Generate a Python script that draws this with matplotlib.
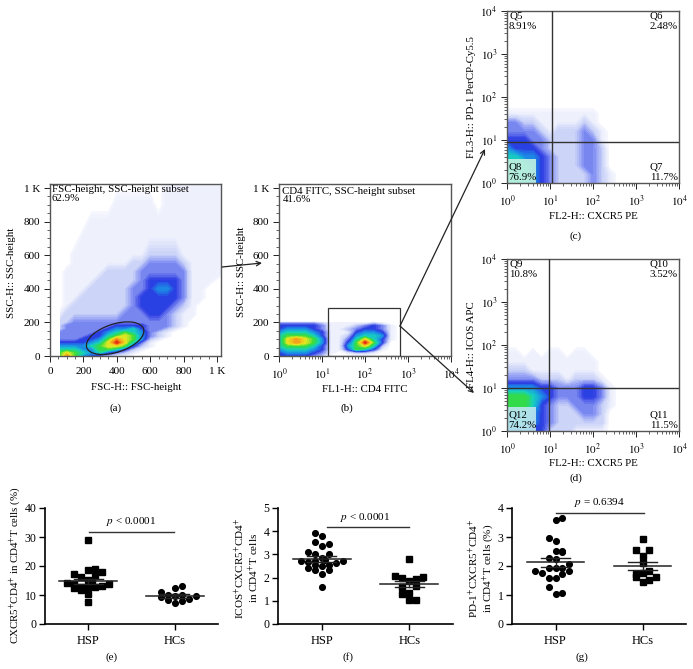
# Flow cytometry gating panels and scatter summaries
import numpy as np
import matplotlib
matplotlib.use('Agg')
from matplotlib import pyplot as plt
from matplotlib.colors import LinearSegmentedColormap
from matplotlib.patches import Ellipse, Rectangle, FancyArrowPatch
from matplotlib.ticker import MultipleLocator, FixedLocator, FixedFormatter, LogLocator, NullFormatter

plt.rcParams['font.family'] = ['Liberation Serif', 'DejaVu Serif']
plt.rcParams['mathtext.fontset'] = 'stix'

W, H = 693, 669

# density levels, 0 is empty and 10 is the red peak
a_x = [60, 100, 150, 200, 250, 300, 350, 400, 450, 500, 550, 600, 650, 700, 750, 800, 850, 900, 950, 1020]
a_y = [0, 20, 40, 60, 80, 100, 120, 140, 160, 180, 200, 250, 300, 350, 400, 450, 500, 550, 600, 700, 800, 900, 1020]
a_density = [
    [7, 9, 7, 5, 4, 3, 2, 1, 1, 0, 0, 0, 0, 0, 0, 0, 0, 0, 0, 0],
    [7, 8, 7, 6, 5, 6, 4, 3, 2, 1, 0, 0, 0, 0, 0, 0, 0, 0, 0, 0],
    [6, 6, 6, 5, 5, 7, 7, 6, 4, 2, 1, 0, 0, 0, 0, 0, 0, 0, 0, 0],
    [5, 5, 5, 5, 6, 7, 8, 8, 7, 4, 2, 1, 0, 0, 0, 0, 0, 0, 0, 0],
    [4, 4, 4, 4, 5, 6, 8, 10, 8, 6, 3, 1, 0, 0, 0, 0, 0, 0, 0, 0],
    [3, 3, 3, 4, 4, 5, 7, 9, 8, 7, 5, 2, 1, 0, 0, 0, 0, 0, 0, 0],
    [3, 3, 3, 3, 4, 4, 6, 7, 8, 7, 5, 3, 2, 1, 0, 0, 0, 0, 0, 0],
    [3, 3, 3, 3, 3, 4, 5, 6, 7, 6, 5, 3, 2, 1, 0, 0, 0, 0, 0, 0],
    [2, 3, 3, 3, 3, 3, 4, 5, 5, 6, 4, 3, 3, 2, 1, 0, 0, 0, 0, 0],
    [2, 3, 3, 3, 3, 3, 3, 4, 4, 4, 4, 3, 3, 3, 2, 1, 0, 0, 0, 0],
    [2, 2, 3, 3, 3, 3, 3, 3, 3, 3, 3, 3, 3, 3, 2, 1, 0, 0, 0, 0],
    [1, 2, 2, 2, 2, 2, 2, 2, 3, 3, 3, 4, 4, 3, 2, 1, 1, 0, 0, 0],
    [0, 1, 2, 2, 2, 2, 2, 2, 2, 3, 4, 4, 4, 4, 3, 2, 1, 0, 0, 0],
    [0, 1, 1, 2, 2, 2, 2, 2, 2, 3, 4, 4, 4, 4, 4, 3, 1, 1, 0, 0],
    [0, 1, 1, 1, 2, 2, 2, 2, 2, 3, 3, 4, 5, 5, 4, 3, 1, 1, 0, 0],
    [0, 1, 1, 1, 1, 2, 2, 2, 2, 2, 3, 4, 4, 4, 4, 3, 1, 1, 1, 0],
    [0, 1, 1, 1, 1, 1, 2, 2, 2, 2, 3, 3, 3, 3, 3, 3, 1, 1, 1, 1],
    [0, 0, 1, 1, 1, 1, 1, 1, 1, 2, 2, 3, 3, 3, 3, 2, 1, 1, 1, 1],
    [0, 0, 1, 1, 1, 1, 1, 1, 1, 1, 1, 2, 2, 2, 2, 1, 1, 1, 1, 1],
    [0, 0, 0, 1, 1, 1, 1, 1, 1, 1, 1, 1, 1, 1, 1, 1, 1, 1, 1, 1],
    [0, 0, 0, 0, 1, 1, 1, 1, 1, 1, 1, 1, 1, 1, 1, 1, 1, 1, 1, 1],
    [0, 0, 0, 0, 0, 0, 0, 1, 1, 1, 1, 1, 0, 1, 1, 1, 1, 1, 1, 1],
    [0, 0, 0, 0, 0, 0, 0, 0, 0, 0, 0, 0, 0, 1, 1, 1, 1, 1, 1, 1],
]

b_x = [0, .2, .4, .6, .8, 1, 1.2, 1.4, 1.6, 1.8, 2, 2.2, 2.4, 2.6, 2.8]
b_y = [0, 20, 40, 60, 80, 100, 120, 140, 160, 180, 195, 205]
b_density = [
    [4, 4, 4, 4, 3, 2, 0, 0, 0, 0, 0, 0, 0, 0, 0],
    [4, 5, 5, 5, 4, 3, 1, 0, 1, 2, 2, 1, 0, 0, 0],
    [5, 6, 6, 6, 5, 4, 1, 1, 4, 7, 6, 4, 1, 0, 0],
    [6, 7, 7, 7, 6, 4, 1, 1, 5, 7, 8, 6, 2, 0, 0],
    [6, 8, 9, 8, 7, 5, 1, 1, 4, 7, 10, 7, 4, 0, 0],
    [6, 8, 9, 8, 7, 5, 1, 1, 3, 6, 8, 6, 4, 1, 0],
    [6, 7, 7, 7, 6, 4, 1, 1, 2, 5, 6, 6, 5, 1, 0],
    [5, 6, 6, 6, 5, 4, 1, 1, 1, 4, 5, 5, 4, 1, 0],
    [4, 5, 5, 5, 4, 3, 1, 1, 2, 3, 4, 4, 3, 1, 0],
    [4, 4, 4, 4, 4, 3, 1, 1, 1, 2, 3, 4, 3, 1, 0],
    [3, 3, 3, 3, 3, 2, 1, 1, 1, 1, 1, 2, 1, 0, 0],
    [0, 0, 0, 0, 0, 0, 0, 0, 0, 0, 0, 0, 0, 0, 0],
]

cd_x = [0, .2, .4, .6, .8, 1, 1.2, 1.4, 1.6, 1.8, 2, 2.2, 2.4, 2.6]
c_y = [0, .2, .4, .6, .8, 1, 1.2, 1.4, 1.6, 1.8]
c_density = [
    [6, 6, 6, 5, 4, 3, 2, 2, 2, 2, 3, 2, 1, 0],
    [6, 6, 6, 5, 4, 3, 2, 2, 2, 2, 3, 2, 1, 0],
    [6, 6, 6, 5, 4, 3, 2, 2, 2, 3, 3, 2, 0, 0],
    [6, 6, 5, 5, 4, 3, 2, 2, 2, 3, 3, 2, 0, 0],
    [5, 4, 4, 4, 3, 2, 2, 2, 2, 3, 3, 2, 0, 0],
    [4, 4, 4, 3, 3, 2, 2, 2, 2, 3, 3, 1, 0, 0],
    [3, 3, 3, 3, 2, 1, 2, 2, 2, 3, 2, 1, 0, 0],
    [3, 3, 2, 2, 1, 1, 1, 1, 1, 2, 1, 0, 0, 0],
    [1, 1, 1, 1, 1, 1, 1, 1, 1, 1, 1, 0, 0, 0],
    [0, 0, 0, 0, 0, 0, 0, 0, 0, 0, 0, 0, 0, 0],
]

d_y = [0, .2, .4, .6, .8, 1, 1.2, 1.4, 1.6, 1.8, 2]
d_density = [
    [5, 5, 5, 4, 4, 2, 2, 2, 1, 1, 1, 1, 0, 0],
    [6, 6, 6, 5, 4, 3, 2, 2, 2, 2, 2, 2, 0, 0],
    [6, 6, 6, 5, 4, 3, 2, 2, 2, 3, 3, 2, 0, 0],
    [7, 7, 7, 6, 4, 3, 2, 2, 3, 3, 3, 2, 1, 0],
    [7, 7, 7, 6, 5, 4, 3, 3, 3, 4, 4, 3, 1, 0],
    [5, 5, 5, 5, 4, 4, 3, 3, 3, 4, 4, 3, 1, 0],
    [3, 3, 3, 3, 2, 2, 2, 1, 2, 2, 2, 1, 0, 0],
    [2, 2, 2, 1, 1, 1, 1, 1, 1, 1, 1, 0, 0, 0],
    [1, 1, 1, 1, 1, 1, 1, 1, 1, 1, 1, 0, 0, 0],
    [1, 1, 0, 1, 0, 1, 1, 0, 1, 1, 0, 0, 0, 0],
    [0, 0, 0, 0, 0, 0, 0, 0, 0, 0, 0, 0, 0, 0],
]

# scatter summaries: offset from the group centre and value
e_hsp_x = [0, -.16, 0, .08, .16, -.08, .08, 0, .04, -.24, -.16, .24, -.16, -.08, 0, .08, .16, -.08, 0, 0]
e_hsp_y = [28.8, 17.4, 18.6, 19, 17.8, 16.3, 16.5, 15.3, 14.8, 14.1, 13.7, 13.8, 12.5, 12.9, 12.6, 12.6, 13, 11.7, 10.2, 7.7]
e_hc_x = [-.16, 0, .08, -.16, -.08, 0, .08, .24, -.08, 0, .08, .16]
e_hc_y = [11, 12.4, 13.1, 9.2, 10.1, 9.8, 10.1, 9.7, 8.2, 7.4, 7.8, 8.6]

f_hsp_x = [-.08, 0, -.08, .08, 0, -.16, -.08, .08, 0, -.24, -.16, -.08, .04, .16, .24, -.08, 0, .08, -.16, -.08, .08, 0, 0]
f_hsp_y = [3.92, 3.78, 3.52, 3.46, 3.35, 3.09, 3.02, 3.02, 2.86, 2.70, 2.66, 2.70, 2.74, 2.63, 2.70, 2.56, 2.49, 2.56, 2.43, 2.31, 2.34, 2.14, 1.58]
f_hc_x = [0, -.16, -.08, .16, .08, 0, -.08, .08, -.08, 0, 0, .08]
f_hc_y = [2.80, 2.05, 2.0, 2.04, 1.94, 1.85, 1.58, 1.62, 1.29, 1.34, 1.03, 1.03]

g_hsp_x = [.08, 0, -.08, 0, 0, .08, .08, -.08, 0, .16, -.08, 0, .08, -.24, .16, -.16, .08, -.08, 0, -.08, .08, 0]
g_hsp_y = [3.67, 3.6, 2.98, 2.87, 2.52, 2.52, 2.48, 2.29, 2.24, 2.08, 1.94, 1.94, 1.94, 1.83, 1.83, 1.76, 1.72, 1.6, 1.6, 1.26, 1.08, 1.03]
g_hc_x = [0, -.08, .08, 0, 0, .08, 0, -.08, -.08, .16, .08, 0]
g_hc_y = [2.93, 2.54, 2.56, 2.34, 2.09, 1.82, 1.75, 1.74, 1.61, 1.62, 1.52, 1.46]

# mean, upper and lower error bar per group
e_stats = [(14.8, 15.5, 13.9), (9.8, 10.5, 9.1)]
f_stats = [(2.80, 2.93, 2.69), (1.72, 1.87, 1.58)]
g_stats = [(2.14, 2.29, 1.98), (2.00, 2.15, 1.86)]

groups = ['HSP', 'HCs']

flow_cmap = LinearSegmentedColormap.from_list('flow', [
    (0.0, '#ffffff'), (0.1, '#eceffc'), (0.2, '#c8d0f8'), (0.3, '#808ef2'),
    (0.4, '#2a3ae2'), (0.5, '#1c8fe6'), (0.6, '#16cfc0'), (0.7, '#35dc3c'),
    (0.8, '#e8e820'), (0.9, '#f59a18'), (1.0, '#e0200f')])
levels = np.linspace(0.4, 10, 49)


def make_axes(left, top, right, bottom):
    return fig.add_axes([left / W, 1 - bottom / H, (right - left) / W, (bottom - top) / H])


def px(x, y):
    return (x / W, 1 - y / H)


def draw_density(ax, xs, ys, density):
    ax.contourf(xs, ys, np.array(density, dtype=float), levels=levels,
                cmap=flow_cmap, vmin=0, vmax=10, extend='max', zorder=1)


def style_flow(ax):
    for s in ax.spines.values():
        s.set_color('#555555')
        s.set_linewidth(1.0)
    ax.tick_params(which='major', direction='out', length=4, width=0.7, labelsize=8, color='#222222')
    ax.tick_params(axis='x', which='major', pad=4)
    ax.tick_params(axis='y', which='major', pad=3)
    ax.tick_params(which='minor', direction='out', length=2, width=0.5, color='#222222')


def linear_axis(axis):
    axis.set_major_locator(FixedLocator([0, 200, 400, 600, 800, 1000]))
    axis.set_major_formatter(FixedFormatter(['0', '200', '400', '600', '800', '1 K']))
    axis.set_minor_locator(MultipleLocator(50))


def log_axis(axis):
    axis.set_major_locator(FixedLocator([1, 10, 100, 1000, 10000]))
    axis.set_major_formatter(FixedFormatter(['$10^{0}$', '$10^{1}$', '$10^{2}$', '$10^{3}$', '$10^{4}$']))
    axis.set_minor_locator(LogLocator(base=10, subs=np.arange(2, 10), numticks=12))
    axis.set_minor_formatter(NullFormatter())


def place_ylabel(ax, x, y):
    ax.yaxis.label.set_va('center')
    ax.yaxis.set_label_coords(*px(x, y), transform=fig.transFigure)


def labels(ax, xlabel, ylabel, xpos, ypos):
    ax.set_xlabel(xlabel, fontsize=7.8, va='center')
    ax.set_ylabel(ylabel, fontsize=7.8)
    ax.xaxis.set_label_coords(*px(*xpos), transform=fig.transFigure)
    place_ylabel(ax, *ypos)


def quadrant_plot(ax, xs, ys, density, vx, hy, names, box_color):
    draw_density(ax, np.power(10.0, xs), np.power(10.0, ys), density)
    ax.set_xscale('log')
    ax.set_yscale('log')
    ax.set_xlim(1, 10000)
    ax.set_ylim(1, 10000)
    log_axis(ax.xaxis)
    log_axis(ax.yaxis)
    style_flow(ax)
    ax.axvline(vx, color='#333333', lw=1.0, zorder=3)
    ax.axhline(hy, color='#333333', lw=1.0, zorder=3)
    ax.add_patch(Rectangle((0, 0), .17, .14, transform=ax.transAxes, facecolor=box_color, edgecolor='none', alpha=.9, zorder=2))
    ax.text(.012, .995, names[0], transform=ax.transAxes, va='top', fontsize=7.8, zorder=4)
    ax.text(.83, .995, names[1], transform=ax.transAxes, va='top', fontsize=7.8, zorder=4)
    ax.text(.83, .008, names[2], transform=ax.transAxes, va='bottom', fontsize=7.8, zorder=4)
    ax.text(.008, .008, names[3], transform=ax.transAxes, va='bottom', fontsize=7.8, zorder=4)


def scatter_plot(ax, hsp, hc, stats, hsp_marker, hc_marker, ymax, yticks, p_text, p_y, p_x, text_x, text_y):
    ax.plot(1 + np.array(hsp[0]), hsp[1], hsp_marker, color='black', ms=4.1, zorder=2)
    ax.plot(2 + np.array(hc[0]), hc[1], hc_marker, color='black', ms=4.1, zorder=2)
    for pos, (mean, upper, lower) in zip([1, 2], stats):
        ax.plot([pos - .333, pos + .333], [mean, mean], color='#222222', lw=1.1, zorder=3)
        ax.plot([pos - .165, pos + .165], [upper, upper], color='#222222', lw=1.0, zorder=3)
        ax.plot([pos - .165, pos + .165], [lower, lower], color='#222222', lw=1.0, zorder=3)
        ax.plot([pos, pos], [lower, upper], color='#222222', lw=1.0, zorder=3)
    ax.plot(p_x, [p_y, p_y], color='#333333', lw=1.0, clip_on=False)
    ax.text(text_x, text_y, p_text, ha='center', va='center', fontsize=8, clip_on=False)
    ax.set_xlim(.5, 2.5)
    ax.set_ylim(0, ymax)
    ax.set_xticks([1, 2])
    ax.set_xticklabels(groups, fontsize=9)
    ax.set_yticks(yticks)
    ax.tick_params(axis='y', labelsize=8.5, length=4, width=1, pad=2)
    ax.tick_params(axis='x', length=4, width=1, pad=4)
    ax.spines['top'].set_visible(False)
    ax.spines['right'].set_visible(False)
    ax.spines['left'].set_linewidth(1.2)
    ax.spines['bottom'].set_linewidth(1.2)


fig = plt.figure(figsize=(W / 100, H / 100), dpi=100)

# (a)
ax_a = make_axes(50, 184, 221, 356)
draw_density(ax_a, a_x, a_y, a_density)
ax_a.set_xlim(0, 1024)
ax_a.set_ylim(0, 1024)
linear_axis(ax_a.xaxis)
linear_axis(ax_a.yaxis)
style_flow(ax_a)
ax_a.add_patch(Ellipse((390, 106), 358, 168, angle=18, fill=False, edgecolor='#222222', lw=0.9, zorder=3))
ax_a.text(.01, .995, 'FSC-height, SSC-height subset\n62.9%', transform=ax_a.transAxes, va='top', fontsize=7.8, linespacing=.95)
labels(ax_a, 'FSC-H:: FSC-height', 'SSC-H:: SSC-height', (136, 387), (12, 273))

# (b)
ax_b = make_axes(279, 184, 451, 356)
draw_density(ax_b, np.power(10.0, b_x), b_y, b_density)
ax_b.set_xscale('log')
ax_b.set_xlim(1, 10000)
ax_b.set_ylim(0, 1024)
log_axis(ax_b.xaxis)
linear_axis(ax_b.yaxis)
style_flow(ax_b)
ax_b.add_patch(Rectangle((13.8, 0), 645 - 13.8, 286, fill=False, edgecolor='#333333', lw=0.9, zorder=3))
ax_b.text(.02, .985, 'CD4 FITC, SSC-height subset\n41.6%', transform=ax_b.transAxes, va='top', fontsize=7.8, linespacing=.95)
labels(ax_b, 'FL1-H:: CD4 FITC', 'SSC-H:: SSC-height', (365, 389), (242, 272))

# (c)
ax_c = make_axes(507, 11, 679, 183)
quadrant_plot(ax_c, cd_x, c_y, c_density, 11.2, 9, ['Q5\n8.91%', 'Q6\n2.48%', 'Q7\n11.7%', 'Q8\n76.9%'], '#c4f0e0')
labels(ax_c, 'FL2-H:: CXCR5 PE', 'FL3-H:: PD-1 PerCP-Cy5.5', (593, 216), (471, 97))

# (d)
ax_d = make_axes(507, 259, 679, 431)
quadrant_plot(ax_d, cd_x, d_y, d_density, 9.3, 10, ['Q9\n10.8%', 'Q10\n3.52%', 'Q11\n11.5%', 'Q12\n74.2%'], '#c0e6ee')
labels(ax_d, 'FL2-H:: CXCR5 PE', 'FL4-H:: ICOS APC', (593, 463), (471, 345))

# (e)
ax_e = make_axes(45, 508, 218, 624)
scatter_plot(ax_e, (e_hsp_x, e_hsp_y), (e_hc_x, e_hc_y), e_stats, 's', 'o', 40, [0, 10, 20, 30, 40],
             r'$\mathit{p}$ < 0.0001', 31.6, [1.01, 1.99], 1.5, 35.4)
ax_e.set_ylabel(r'CXCR5$^{+}$CD4$^{+}$ in CD4$^{+}$T cells (%)', fontsize=7.8)
place_ylabel(ax_e, 15, 565)

# (f)
ax_f = make_axes(278, 508, 453, 624)
scatter_plot(ax_f, (f_hsp_x, f_hsp_y), (f_hc_x, f_hc_y), f_stats, 'o', 's', 5, [0, 1, 2, 3, 4, 5],
             r'$\mathit{p}$ < 0.0001', 4.18, [1.06, 2.0], 1.5, 4.57)
ax_f.set_ylabel('ICOS$^{+}$CXCR5$^{+}$CD4$^{+}$\nin CD4$^{+}$T cells', fontsize=8, linespacing=.95)
place_ylabel(ax_f, 247, 568)

# (g)
ax_g = make_axes(512, 508, 686, 624)
scatter_plot(ax_g, (g_hsp_x, g_hsp_y), (g_hc_x, g_hc_y), g_stats, 'o', 's', 4, [0, 1, 2, 3, 4],
             r'$\mathit{p}$ = 0.6394', 3.83, [1.01, 2.02], 1.51, 4.2)
ax_g.set_ylabel('PD-1$^{+}$CXCR5$^{+}$CD4$^{+}$\nin CD4$^{+}$T cells (%)', fontsize=8, linespacing=.95)
place_ylabel(ax_g, 481, 568)

# panel letters
panel_letters = ['(a)', '(b)', '(c)', '(d)', '(e)', '(f)', '(g)']
letter_x = [116, 347, 576, 576, 112, 348, 582]
letter_y = [408, 408, 236, 478, 657, 657, 657]
for name, x, y in zip(panel_letters, letter_x, letter_y):
    fig.text(*px(x, y), name, ha='center', va='center', fontsize=8)

# gating arrows
arrow_tail = [(222, 267), (400, 326), (400, 326)]
arrow_head = [(262, 263), (485, 149), (474, 393)]
for tail, head in zip(arrow_tail, arrow_head):
    fig.add_artist(FancyArrowPatch(px(*tail), px(*head), transform=fig.transFigure,
                                   arrowstyle='->', mutation_scale=8, lw=0.9, color='#222222',
                                   shrinkA=0, shrinkB=0, zorder=10))

fig.savefig('out.png', dpi=100)
